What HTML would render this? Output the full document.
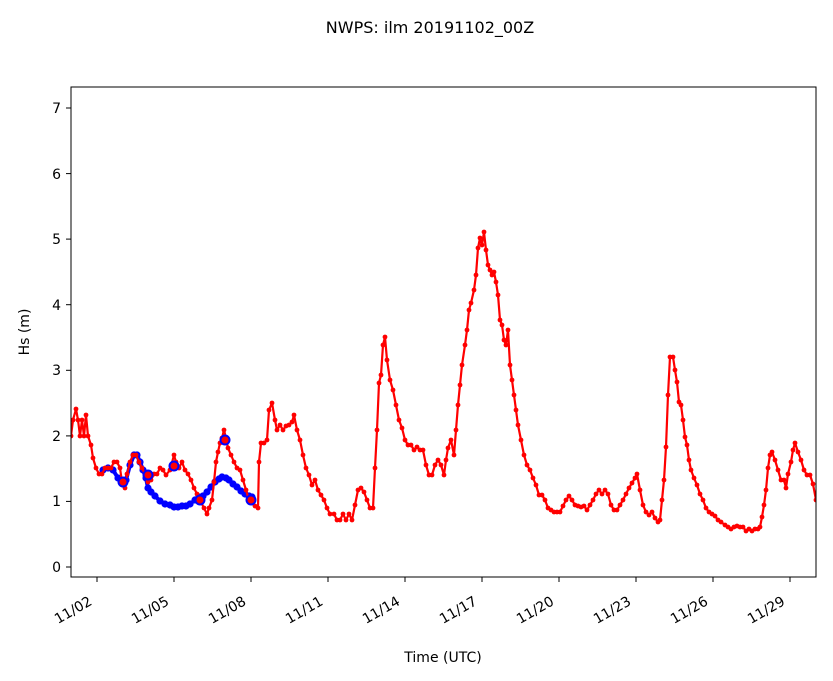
<!DOCTYPE html>
<html><head><meta charset="utf-8"><style>body{margin:0;background:#fff}svg{display:block;font-family:"DejaVu Sans","Liberation Sans",sans-serif}</style></head><body>
<svg width="833" height="681" viewBox="0 0 833 681" xmlns="http://www.w3.org/2000/svg">
<defs>
<marker id="r" viewBox="-4 -4 8 8" markerWidth="8" markerHeight="8" markerUnits="userSpaceOnUse" refX="0" refY="0" overflow="visible"><circle r="2.4" fill="red"/></marker>
<marker id="b" viewBox="-4 -4 8 8" markerWidth="8" markerHeight="8" markerUnits="userSpaceOnUse" refX="0" refY="0" overflow="visible"><circle r="3.6" fill="blue"/></marker>
<clipPath id="c"><rect x="71" y="87" width="745" height="490"/></clipPath>
</defs>
<text x="430" y="33" font-size="16" text-anchor="middle">NWPS: ilm 20191102_00Z</text>
<g clip-path="url(#c)">
<polyline fill="none" stroke="blue" stroke-width="4" stroke-linejoin="round" marker-start="url(#b)" marker-mid="url(#b)" marker-end="url(#b)" points="103,470 108,468 113,470 118,478 123,484 126,480 130,465 134,455 137,455 140,462 143,470 146,478 148,488 151,492 155,496 160,501 165,504 170,505 174,507 178,507 182,506 186,506 190,504 195,500 199,497 203,496 207,492 211,487 215,482 219,479 222,477 226,478 229,480 233,484 237,487 241,491 245,494 249,496 252,497 252,500"/>
<polyline fill="none" stroke="red" stroke-width="2.2" stroke-linejoin="round" marker-start="url(#r)" marker-mid="url(#r)" marker-end="url(#r)" points="71,436 73,420 76,409 78,420 80,436 82,420 84,436 86,415 88,436 91,445 93,458 96,468 99,474 102,474 105,468 108,468 111,468 114,462 117,462 120,468 122,482 125,488 127,474 130,462 133,455 136,455 139,462 142,468 145,474 148,482 151,480 154,474 157,474 160,468 163,470 166,475 170,470 174,455 176,462 179,468 182,462 185,470 188,474 191,480 194,488 197,494 200,500 204,508 207,514 209,508 212,500 214,482 216,462 218,452 220,443 222,438 224,430 226,438 228,448 231,455 234,462 237,468 240,470 243,480 246,490 249,500 252,503 255,506 258,508 259,462 261,443 264,443 267,440 269,410 272,403 275,420 277,430 280,425 283,430 286,426 289,425 292,422 294,415 297,430 300,440 303,455 306,468 309,475 312,485 315,480 318,490 321,495 324,500 327,508 330,514 334,514 337,520 340,520 343,514 346,520 349,514 352,520 355,505 358,490 361,488 364,492 367,500 370,508 373,508 375,468 377,430 379,383 381,375 383,345 385,337 387,360 390,380 393,390 396,405 399,420 402,428 405,440 408,445 411,445 414,450 417,447 420,450 423,450 426,465 429,475 432,475 435,465 438,460 441,465 444,475 446,460 448,448 451,440 454,455 456,430 458,405 460,385 462,365 465,345 467,330 469,310 471,303 474,290 476,275 478,248 480,238 482,245 484,232 486,250 488,265 490,270 492,275 494,272 496,282 498,295 500,320 502,325 504,340 506,345 508,330 510,365 512,380 514,395 516,410 518,425 521,440 524,455 527,465 530,470 533,478 536,485 539,495 542,495 545,500 548,508 551,510 554,512 557,512 560,512 563,506 566,500 569,496 572,500 575,505 578,506 581,507 584,506 587,510 590,505 593,500 596,494 599,490 602,494 605,490 608,494 611,505 614,510 617,510 620,505 623,500 626,494 629,488 632,483 635,478 637,474 640,490 643,505 646,512 649,515 652,512 655,518 658,522 660,520 662,500 664,480 666,447 668,395 670,357 673,357 675,370 677,382 679,402 681,405 683,420 685,437 687,445 689,460 691,470 694,478 697,485 700,494 703,500 706,508 709,512 712,514 715,516 718,520 721,522 725,525 728,527 731,529 734,527 737,526 740,527 743,527 746,531 749,529 752,531 755,529 758,529 760,527 762,517 764,505 766,490 768,468 770,455 772,452 775,460 778,470 781,480 784,480 786,488 788,474 791,462 793,450 795,443 798,452 801,460 804,470 807,475 810,475 813,484 816,500"/>
<g fill="red" stroke="blue" stroke-width="2">
<circle cx="123" cy="482" r="4.5"/><circle cx="148" cy="475" r="4.5"/><circle cx="174" cy="466" r="4.5"/><circle cx="200" cy="500" r="4.5"/><circle cx="225" cy="440" r="4.5"/><circle cx="251" cy="500" r="4.5"/>
</g>
</g>
<rect x="71" y="87" width="745" height="490" fill="none" stroke="#000" stroke-width="1"/>
<g stroke="#000" stroke-width="1">
<line x1="66" x2="71" y1="567" y2="567"/><line x1="66" x2="71" y1="501.4" y2="501.4"/><line x1="66" x2="71" y1="435.9" y2="435.9"/><line x1="66" x2="71" y1="370.3" y2="370.3"/><line x1="66" x2="71" y1="304.7" y2="304.7"/><line x1="66" x2="71" y1="239.1" y2="239.1"/><line x1="66" x2="71" y1="173.6" y2="173.6"/><line x1="66" x2="71" y1="108" y2="108"/>
<line x1="97" x2="97" y1="577" y2="582"/><line x1="174" x2="174" y1="577" y2="582"/><line x1="251" x2="251" y1="577" y2="582"/><line x1="328" x2="328" y1="577" y2="582"/><line x1="405" x2="405" y1="577" y2="582"/><line x1="482" x2="482" y1="577" y2="582"/><line x1="559" x2="559" y1="577" y2="582"/><line x1="636" x2="636" y1="577" y2="582"/><line x1="713" x2="713" y1="577" y2="582"/><line x1="790" x2="790" y1="577" y2="582"/>
</g>
<g font-size="14" text-anchor="end">
<text x="61" y="572">0</text><text x="61" y="506">1</text><text x="61" y="441">2</text><text x="61" y="375">3</text><text x="61" y="310">4</text><text x="61" y="244">5</text><text x="61" y="179">6</text><text x="61" y="113">7</text>
</g>
<g font-size="14" text-anchor="end">
<text transform="translate(93,604) rotate(-30)">11/02</text>
<text transform="translate(170,604) rotate(-30)">11/05</text>
<text transform="translate(247,604) rotate(-30)">11/08</text>
<text transform="translate(324,604) rotate(-30)">11/11</text>
<text transform="translate(401,604) rotate(-30)">11/14</text>
<text transform="translate(478,604) rotate(-30)">11/17</text>
<text transform="translate(555,604) rotate(-30)">11/20</text>
<text transform="translate(632,604) rotate(-30)">11/23</text>
<text transform="translate(709,604) rotate(-30)">11/26</text>
<text transform="translate(786,604) rotate(-30)">11/29</text>
</g>
<text x="443" y="662" font-size="14" text-anchor="middle">Time (UTC)</text>
<text transform="translate(29,332) rotate(-90)" font-size="14" text-anchor="middle">Hs (m)</text>
</svg>
</body></html>
